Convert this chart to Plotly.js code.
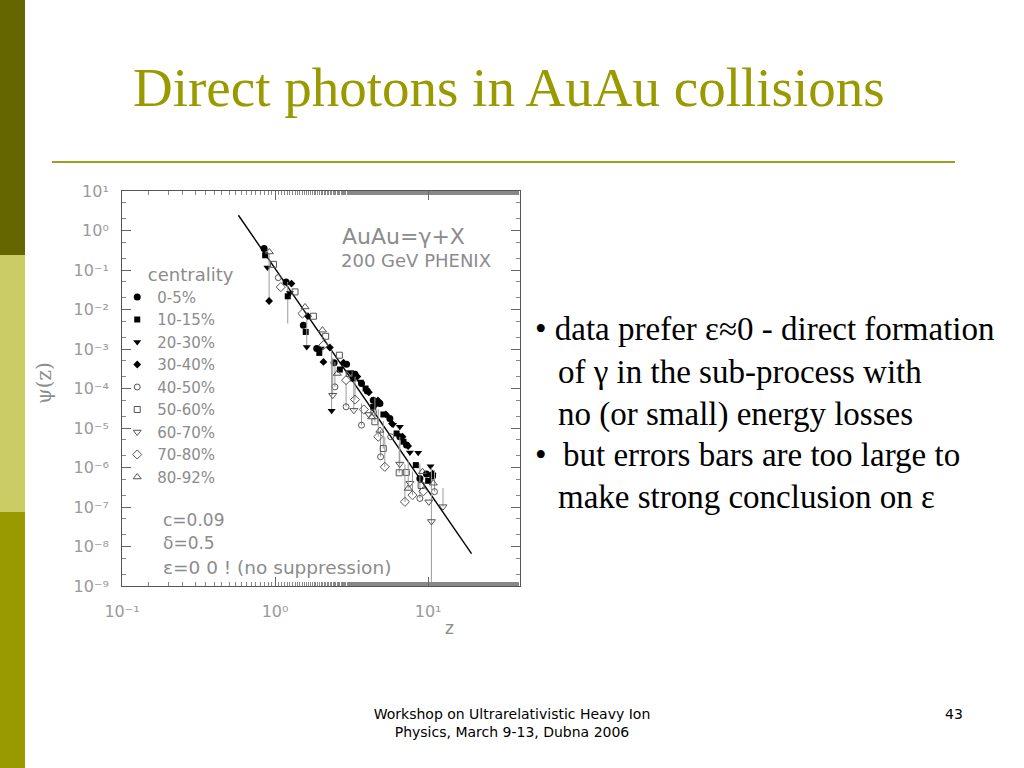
<!DOCTYPE html>
<html><head><meta charset="utf-8">
<script src="https://cdn.plot.ly/plotly-3.0.1.min.js"></script>
<style>
html,body{margin:0;padding:0;background:#fff;}
#slide{position:relative;width:1024px;height:768px;overflow:hidden;background:#fff;}
#chart{position:absolute;left:0;top:0;width:1024px;height:768px;}
.bar{position:absolute;left:0;width:25px;}
.t{position:absolute;white-space:pre;font-family:'Liberation Serif','Times New Roman',serif;color:#000;}
.f{position:absolute;white-space:pre;font-family:'DejaVu Sans',Verdana,sans-serif;color:#000;}
</style></head><body>
<div id="slide">
<div class="bar" style="top:0;height:255px;background:#666600"></div>
<div class="bar" style="top:255px;height:257px;background:#cccc66"></div>
<div class="bar" style="top:512px;height:256px;background:#999900"></div>
<div id="chart"></div>
<div style="position:absolute;left:133px;top:60px;white-space:pre;font-family:'Liberation Serif','Times New Roman',serif;font-size:55px;line-height:55px;color:#999900;">Direct photons in AuAu collisions</div>
<div style="position:absolute;left:52px;top:161px;width:903px;height:2px;background:#a0a020;"></div>
<div class="t" style="left:535px;top:313px;font-size:33px;line-height:33px;">• data prefer ε≈0 - direct formation</div>
<div class="t" style="left:558px;top:356px;font-size:33px;line-height:33px;">of γ in the sub-process with</div>
<div class="t" style="left:558px;top:398px;font-size:33px;line-height:33px;">no (or small) energy losses</div>
<div class="t" style="left:535px;top:439px;font-size:33px;line-height:33px;">•  but errors bars are too large to</div>
<div class="t" style="left:558px;top:481px;font-size:33px;line-height:33px;">make strong conclusion on ε</div>
<div class="f" style="left:262px;width:500px;text-align:center;top:706px;font-size:14px;line-height:16px;">Workshop on Ultrarelativistic Heavy Ion</div>
<div class="f" style="left:262px;width:500px;text-align:center;top:724px;font-size:14px;line-height:16px;">Physics, March 9-13, Dubna 2006</div>
<div class="f" style="left:945px;top:706px;font-size:14px;line-height:16px;">43</div>
</div>
<script>
// ---- data ----
const legendLabels = ['0-5%','10-15%','20-30%','30-40%','40-50%','50-60%','60-70%','70-80%','80-92%'];
const xTickVals = [0.1, 1, 10];
const xTickText = ['10⁻¹', '10⁰', '10¹'];
const yTickVals = [1e-9, 1e-8, 1e-7, 1e-6, 1e-5, 1e-4, 1e-3, 1e-2, 1e-1, 1, 10];
const yTickText = ['10⁻⁹', '10⁻⁸', '10⁻⁷', '10⁻⁶', '10⁻⁵', '10⁻⁴', '10⁻³', '10⁻²', '10⁻¹', '10⁰', '10¹'];

// 0-5%
const z05   = [0.848, 1.18, 1.53, 1.87, 2.43, 2.93, 3.33, 3.67, 4.00, 4.38, 4.84, 5.62, 6.53, 7.22, 8.83, 9.75, 10.7];
const psi05 = [0.348, 0.0499, 0.0040, 0.00103, 4.46e-4, 4.13e-4, 2.31e-4, 1.34e-4, 8.7e-5, 5.07e-5, 4.17e-5, 1.74e-5, 5.99e-6, 3.69e-6, 5.29e-7, 6.8e-7, 6.05e-7];
const hi05  = [];
const lo05  = [];
// 10-15%
const z1015   = [0.861, 1.21, 1.585, 1.945, 2.65, 3.24, 3.90, 4.38, 5.10, 6.22, 6.90, 8.31, 10.0];
const psi1015 = [0.236, 0.0216, 0.0027, 7.96e-4, 3.02e-4, 1.79e-4, 1.0e-4, 3.43e-5, 2.2e-5, 7.27e-6, 4.5e-6, 1.15e-6, 4.6e-7];
const hi1015  = [null, 0.05];
const lo1015  = [null, 0.0044];
// 20-30%
const z2030   = [0.891, 1.25, 1.61, 1.99, 2.34, 3.10, 3.60, 4.60, 5.90, 6.53, 7.60, 8.61, 10.36];
const psi2030 = [0.115, 0.0263, 1.13e-3, 1.03e-3, 2.72e-5, 2.6e-4, 1.5e-4, 4.0e-5, 1.2e-5, 1.07e-5, 2.4e-6, 2.35e-6, 1.08e-6];
const hi2030  = [null, null, 7.9e-3, null, 9.3e-4];
const lo2030  = [];
// 30-40%
const z3040   = [0.914, 1.28, 1.64, 2.07, 2.28, 2.80, 3.45, 4.10, 4.70, 5.30, 5.80, 6.80, 7.40, 10.7];
const psi3040 = [0.0164, 0.0453, 6.76e-3, 4.71e-4, 1.09e-3, 4.5e-4, 2.0e-4, 8.0e-5, 5.0e-5, 2.2e-5, 1.3e-5, 6.0e-6, 3.5e-6, 7.0e-7];
const hi3040  = [0.26];
const lo3040  = [];
// 40-50%
const z4050   = [1.05, 2.46, 2.91, 3.67, 4.40, 4.89, 5.70, 8.83, 11.0];
const psi4050 = [0.064, 1.1e-4, 3.45e-5, 1.18e-5, 2.5e-5, 1.87e-6, 6.0e-6, 1.65e-7, 2.45e-7];
const hi4050  = [null, 4.7e-4, 1.34e-4, 4.2e-5, null, 8.9e-6, null, 1.26e-6, 8.5e-7];
const lo4050  = [];
// 50-60%
const z5060   = [0.976, 1.35, 1.78, 2.14, 2.63, 3.05, 4.49, 5.09, 6.47, 7.20, 9.00];
const psi5060 = [0.139, 0.0279, 6.76e-3, 2.1e-3, 6.97e-4, 2.4e-4, 1.44e-5, 3.02e-6, 7.35e-7, 7.5e-7, 3.5e-7];
const hi5060  = [null, null, null, null, null, null, 6e-5, 1.5e-5, 4e-6];
const lo5060  = [];
// 60-70%
const z6070   = [2.38, 3.27, 4.10, 6.53, 7.60, 10.1, 10.5, 12.5];
const psi6070 = [6.76e-5, 2.8e-5, 2.2e-5, 1.22e-6, 4.0e-7, 1.35e-7, 4.3e-8, 1.02e-7];
const hi6070  = [6e-4, 1.5e-4, null, 6e-6, null, null, 1.0e-6, 3e-7];
const lo6070  = [null, null, null, null, null, null, 1e-10];
// 70-80%
const z7080   = [1.09, 1.51, 2.07, 2.91, 3.33, 3.80, 4.72, 5.21, 7.05, 7.90, 9.30];
const psi7080 = [0.037, 7.9e-3, 1.25e-3, 1.63e-4, 5.25e-5, 2.94e-5, 6.0e-6, 1.04e-6, 1.35e-7, 2.0e-7, 2.5e-7];
const hi7080  = [null, null, null, null, 2e-4, null, 3e-5, 6e-6, 1.2e-6, 8e-7];
const lo7080  = [];
// 80-92%
const z8092   = [0.918, 1.57, 2.04, 2.55, 4.27, 4.84, 7.41, 9.18, 10.8];
const psi8092 = [0.286, 0.0116, 3.0e-3, 2.4e-4, 1.9e-5, 8.7e-6, 2.95e-7, 7.8e-7, 4.0e-7];
const hi8092  = [null, null, null, null, null, null, 1.5e-6];
const lo8092  = [];
// fit curve (c=0.09, delta=0.5, eps=0) end points
const fitZ   = [0.576, 19.2];
const fitPsi = [2.43, 6.6e-9];

// ---- styling / building ----
const seriesZ   = [z05, z1015, z2030, z3040, z4050, z5060, z6070, z7080, z8092];
const seriesPsi = [psi05, psi1015, psi2030, psi3040, psi4050, psi5060, psi6070, psi7080, psi8092];
const seriesHi  = [hi05, hi1015, hi2030, hi3040, hi4050, hi5060, hi6070, hi7080, hi8092];
const seriesLo  = [lo05, lo1015, lo2030, lo3040, lo4050, lo5060, lo6070, lo7080, lo8092];
const symbols = ['circle','square','triangle-down','diamond','circle-open','square-open','triangle-down-open','diamond-open','triangle-up-open'];
const sizes   = [7, 6, 7, 6, 6, 6, 7, 7, 7];

const traces = [{
  x: fitZ, y: fitPsi, mode: 'lines', type: 'scatter',
  line: {color: '#000', width: 1.4}, showlegend: false, hoverinfo: 'skip'
}];
for (let i = 0; i < seriesZ.length; i++) {
  const y = seriesPsi[i];
  const plus = y.map((v, k) => (seriesHi[i][k] != null ? seriesHi[i][k] - v : 0));
  const minus = y.map((v, k) => (seriesLo[i][k] != null ? v - seriesLo[i][k] : 0));
  const open = symbols[i].indexOf('open') >= 0;
  traces.push({
    x: seriesZ[i], y: y, type: 'scatter', mode: 'markers', name: legendLabels[i],
    marker: {symbol: symbols[i], size: sizes[i], color: open ? '#555' : '#000',
             line: {width: open ? 1 : 0, color: open ? '#555' : '#000'}},
    error_y: {type: 'data', symmetric: false, array: plus, arrayminus: minus,
              color: '#9a9a9a', thickness: 1, width: 0}
  });
}

const grey = '#8c8c8c';
const tf = {family: 'DejaVu Sans, sans-serif', size: 16, color: '#9a9a9a'};
const axisCommon = {
  type: 'log', showgrid: false, zeroline: false, showline: true, linecolor: '#555', linewidth: 1,
  mirror: 'ticks', ticks: 'inside', ticklen: 9, tickcolor: '#666', tickwidth: 1,
  tickmode: 'array', tickfont: tf,
  minor: {ticks: 'inside', ticklen: 4, tickcolor: '#888', showgrid: false}
};
const layout = {
  width: 1024, height: 768,
  margin: {l: 122, r: 504, t: 191, b: 182},
  paper_bgcolor: 'rgba(0,0,0,0)', plot_bgcolor: '#fff',
  xaxis: Object.assign({}, axisCommon, {range: [-1, 1.6], tickvals: xTickVals, ticktext: xTickText, ticklabelstandoff: 11}),
  yaxis: Object.assign({}, axisCommon, {range: [-9, 1], tickvals: yTickVals, ticktext: yTickText, ticklabelstandoff: 9}),
  showlegend: true,
  legend: {x: -0.012, y: 0.832, xanchor: 'left', yanchor: 'top', bgcolor: 'rgba(0,0,0,0)',
           font: {family: 'DejaVu Sans, sans-serif', size: 15, color: grey},
           title: {text: '     centrality', font: {family: 'DejaVu Sans, sans-serif', size: 18, color: grey}},
           itemwidth: 30, tracegroupgap: 0},
  annotations: [
    {xref: 'paper', yref: 'paper', x: 0.548, y: 0.884, xanchor: 'left', yanchor: 'middle', showarrow: false,
     text: 'AuAu=γ+X', font: {family: 'DejaVu Sans, sans-serif', size: 22, color: grey}},
    {xref: 'paper', yref: 'paper', x: 0.545, y: 0.825, xanchor: 'left', yanchor: 'middle', showarrow: false,
     text: '200 GeV PHENIX', font: {family: 'DejaVu Sans, sans-serif', size: 18, color: grey}},
    {xref: 'paper', yref: 'paper', x: 0.097, y: 0.167, xanchor: 'left', yanchor: 'middle', showarrow: false,
     text: 'c=0.09', font: {family: 'DejaVu Sans, sans-serif', size: 17, color: grey}},
    {xref: 'paper', yref: 'paper', x: 0.097, y: 0.109, xanchor: 'left', yanchor: 'middle', showarrow: false,
     text: 'δ=0.5', font: {family: 'DejaVu Sans, sans-serif', size: 17, color: grey}},
    {xref: 'paper', yref: 'paper', x: 0.097, y: 0.048, xanchor: 'left', yanchor: 'middle', showarrow: false,
     text: 'ε=0 0 ! (no suppression)', font: {family: 'DejaVu Sans, sans-serif', size: 18.5, color: grey}},
    {xref: 'paper', yref: 'paper', x: 0.824, y: -0.106, xanchor: 'center', yanchor: 'middle', showarrow: false,
     text: 'z', font: {family: 'DejaVu Sans, sans-serif', size: 17, color: grey}},
    {xref: 'paper', yref: 'paper', x: -0.196, y: 0.514, xanchor: 'center', yanchor: 'middle', showarrow: false,
     textangle: -90, text: 'ψ(z)', font: {family: 'DejaVu Serif, serif', size: 20, color: grey}}
  ]
};
Plotly.newPlot('chart', traces, layout, {displayModeBar: false, staticPlot: true});
</script>
</body></html>
